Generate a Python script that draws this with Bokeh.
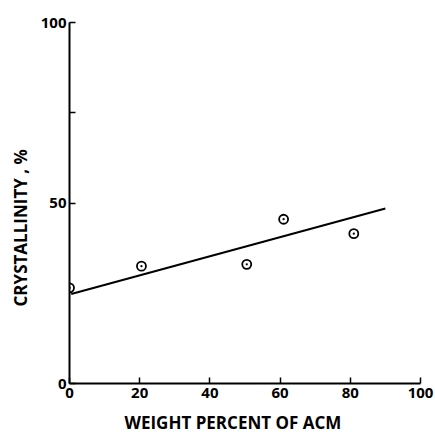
from bokeh.plotting import figure
from bokeh.models import Range1d, FixedTicker, Title
from bokeh.embed import file_html
from bokeh.resources import INLINE

# data
acm_pct = [0, 20.5, 50.5, 61, 81]
crystallinity = [26.5, 32.5, 33.0, 45.5, 41.5]
fit_x = [0.5, 90]
fit_y = [24.8, 48.5]
x_ticks = [0, 20, 40, 60, 80, 100]
y_ticks = [0, 50, 75, 100]

FONT = "Open Sans"

p = figure(width=435, height=441, output_backend="svg", toolbar_location=None,
           x_range=Range1d(0, 100), y_range=Range1d(0, 100),
           min_border_left=8, min_border_right=15, min_border_top=22, min_border_bottom=0)
p.grid.visible = False
p.outline_line_color = None
p.background_fill_color = "white"
p.border_fill_color = "white"

for ax in (p.xaxis[0], p.yaxis[0]):
    ax.axis_line_width = 2
    ax.axis_line_color = "black"
    ax.major_tick_in = 6
    ax.major_tick_out = 0
    ax.major_tick_line_width = 1.5
    ax.minor_tick_line_color = None
    ax.major_label_text_font = FONT
    ax.major_label_text_font_style = "bold"
    ax.major_label_text_font_size = "15px"
    ax.major_label_text_color = "black"

p.xaxis[0].ticker = FixedTicker(ticks=x_ticks)
p.yaxis[0].ticker = FixedTicker(ticks=y_ticks)
p.yaxis[0].major_label_overrides = {75: ""}
p.xaxis[0].major_label_standoff = 4
p.yaxis[0].major_label_standoff = 3

p.line(fit_x, fit_y, line_color="black", line_width=2)
p.scatter(acm_pct, crystallinity, marker="circle_dot", size=9,
          line_color="black", line_width=1.8, fill_color=None)

p.add_layout(Title(text="CRYSTALLINITY , %", align="left", offset=77,
                   standoff=12, text_font=FONT, text_font_style="bold",
                   text_font_size="17px", text_color="black"), "left")
p.add_layout(Title(text="WEIGHT PERCENT OF ACM", align="left", offset=55,
                   standoff=16, text_font=FONT, text_font_style="bold",
                   text_font_size="17px", text_color="black"), "below")

open("out.html", "w").write(file_html(p, INLINE))
